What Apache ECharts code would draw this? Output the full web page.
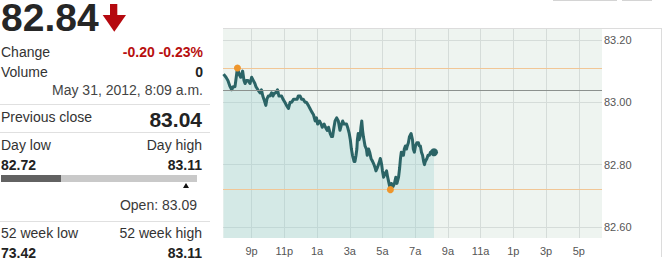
<!DOCTYPE html>
<html>
<head>
<meta charset="utf-8">
<script src="https://cdn.jsdelivr.net/npm/echarts@6/dist/echarts.min.js"></script>
<style>
html,body{margin:0;padding:0;background:#fff;}
body{position:relative;width:668px;height:266px;overflow:hidden;font-family:"Liberation Sans",Arial,sans-serif;}
#chart{position:absolute;left:0;top:0;width:668px;height:266px;}
.t{position:absolute;white-space:nowrap;font-size:14px;line-height:14px;color:#333;}
.b{font-weight:bold;color:#222;}
.red{color:#b80f0f;}
.sep{position:absolute;left:0;width:210px;height:1px;background:#e0e0e0;}
</style>
</head>
<body>
<div id="chart"></div>
<div id="panel"></div>
<script>
// ---- data ----
const times = ["19:17","19:26","19:33","19:41","19:47","19:52","19:59","20:05","20:08","20:14",
"20:20","20:27","20:32","20:36","20:41","20:47","20:54","21:00","21:06","21:12",
"21:16","21:23","21:31","21:36","21:41","21:45","21:52","21:56","22:01","22:07",
"22:13","22:18","22:24","22:29","22:35","22:40","22:50","22:55","23:02","23:08",
"23:15","23:21","23:27","23:34","23:39","23:47","23:51","23:58","00:03","00:09",
"00:16","00:21","00:28","00:34","00:40","00:47","00:53","00:58","01:02","01:09",
"01:15","01:19","01:26","01:31","01:37","01:42","01:48","01:53","01:57","02:02",
"02:06","02:12","02:18","02:24","02:30","02:34","02:39","02:43","02:48","02:52",
"02:58","03:02","03:06","03:10","03:16","03:19","03:23","03:26","03:28","03:31",
"03:34","03:38","03:41","03:44","03:47","03:50","03:56","04:01","04:04","04:09",
"04:13","04:18","04:24","04:29","04:33","04:36","04:41","04:45","04:49","04:52",
"04:57","05:00","05:04","05:09","05:15","05:19","05:24","05:29","05:33","05:39",
"05:44","05:49","05:53","05:59","06:03","06:06","06:09","06:13","06:17","06:20",
"06:24","06:28","06:31","06:35","06:39","06:45","06:50","06:53","06:57","07:01",
"07:06","07:12","07:15","07:19","07:23","07:27","07:31","07:34","07:37","07:43",
"07:47","07:52","07:56","08:01","08:09"];
const prices = [83.09,83.08,83.07,83.05,83.04,83.05,83.05,83.09,83.11,83.09,
83.08,83.10,83.07,83.06,83.07,83.07,83.06,83.08,83.07,83.06,
83.05,83.04,83.03,83.04,83.02,83.01,82.99,83.01,83.02,83.02,
83.03,83.02,83.03,83.03,83.04,83.02,83.02,83.01,83.00,82.99,
82.98,83.00,83.00,83.01,83.01,83.01,83.02,83.02,83.01,83.01,
83.00,83.00,82.99,82.98,82.97,82.96,82.94,82.95,82.93,82.94,
82.93,82.92,82.93,82.92,82.91,82.92,82.90,82.89,82.89,82.92,
82.94,82.95,82.94,82.91,82.93,82.94,82.93,82.93,82.93,82.92,
82.90,82.88,82.85,82.83,82.81,82.81,82.83,82.85,82.88,82.90,
82.88,82.89,82.92,82.94,82.91,82.89,82.86,82.85,82.83,82.85,
82.84,82.82,82.81,82.80,82.79,82.78,82.79,82.80,82.81,82.82,
82.80,82.78,82.76,82.77,82.78,82.76,82.74,82.72,82.74,82.73,
82.74,82.76,82.74,82.76,82.79,82.82,82.84,82.83,82.83,82.85,
82.86,82.85,82.86,82.87,82.89,82.90,82.88,82.85,82.84,82.86,
82.87,82.87,82.86,82.86,82.84,82.83,82.81,82.80,82.81,82.82,
82.83,82.83,82.84,82.84,82.84];
const xTickHours = [21,23,25,27,29,31,33,35,37,39,41];
const xTickLabels = ["9p","11p","1a","3a","5a","7a","9a","11a","1p","3p","5p"];
const yTicks = [82.6,82.8,83.0,83.2];
const lastPrice = 82.84, change = "-0.20", changePct = "-0.23%", volume = "0";
const stamp = "May 31, 2012, 8:09 a.m.";
const prevClose = 83.04, dayLow = 82.72, dayHigh = 83.11, openPrice = 83.09;
const wkLow = 73.42, wkHigh = 83.11;

// ---- left stats panel ----
const panel = document.getElementById('panel');
function txt(s, top, side, pos, cls, extra){
  const d = document.createElement('div');
  d.className = 't ' + (cls||'');
  d.textContent = s;
  d.style.top = top + 'px';
  d.style[side] = pos + 'px';
  if (extra) Object.assign(d.style, extra);
  panel.appendChild(d);
}
txt(lastPrice.toFixed(2), 0, 'left', 1, 'b', {fontSize:'39px', lineHeight:'36px', color:'#262626'});
panel.insertAdjacentHTML('beforeend',
 '<svg style="position:absolute;left:102px;top:4px" width="26" height="29"><rect x="8" y="0" width="7.3" height="13" fill="#b5090f"/><polygon points="0.7,11 24,11 12.3,27.7" fill="#b5090f"/></svg>');
txt('Change', 45, 'left', 1);
txt(change + ' ' + changePct, 45, 'right', 465, 'b red', {color:'#b80f0f'});
txt('Volume', 65, 'left', 1);
txt(volume, 65, 'right', 465, 'b');
txt(stamp, 83, 'right', 465, '', {color:'#444'});
panel.insertAdjacentHTML('beforeend','<div class="sep" style="top:104px"></div>');
txt('Previous close', 110, 'left', 1);
txt(prevClose.toFixed(2), 109.2, 'right', 466, 'b', {fontSize:'21px', lineHeight:'21px'});
panel.insertAdjacentHTML('beforeend','<div class="sep" style="top:132px"></div>');
txt('Day low', 138, 'left', 1);
txt('Day high', 138, 'right', 466);
txt(dayLow.toFixed(2), 158, 'left', 1, 'b');
txt(dayHigh.toFixed(2), 158, 'right', 466, 'b');
const barW = 196;
const fLast = (lastPrice - dayLow) / (dayHigh - dayLow);
const fOpen = (openPrice - dayLow) / (dayHigh - dayLow);
panel.insertAdjacentHTML('beforeend',
 '<div style="position:absolute;left:1px;top:175px;width:'+barW+'px;height:7px;background:#c9c9c9"></div>' +
 '<div style="position:absolute;left:1px;top:175px;width:'+(fLast*barW).toFixed(1)+'px;height:7px;background:#626262"></div>' +
 '<div style="position:absolute;left:'+(1+fOpen*barW-3.5).toFixed(1)+'px;top:183px;width:0;height:0;border-left:3.5px solid transparent;border-right:3.5px solid transparent;border-bottom:5px solid #111"></div>');
txt('Open: ' + openPrice.toFixed(2), 198, 'right', 471, '', {color:'#3a3a3a'});
panel.insertAdjacentHTML('beforeend','<div class="sep" style="top:221px"></div>');
txt('52 week low', 226, 'left', 1);
txt('52 week high', 226, 'right', 466);
txt(wkLow.toFixed(2), 246, 'left', 1, 'b');
txt(wkHigh.toFixed(2), 246, 'right', 466, 'b');
// clipped controls at the very top
panel.insertAdjacentHTML('beforeend',
 '<div style="position:absolute;left:553px;top:-20px;width:62px;height:19px;border:1px solid #d4d4d4"></div>' +
 '<div style="position:absolute;left:622px;top:-20px;width:28px;height:19px;border:1px solid #d4d4d4"></div>');

// ---- chart ----
function toHour(s){
  const p = s.split(':');
  let h = +p[0] + (+p[1]) / 60;
  if (h < 12) h += 24; // after midnight (next day)
  return h;
}
const lineData = times.map((s, i) => [toHour(s), prices[i]]);
const iMax = prices.indexOf(Math.max(...prices));
const iMin = prices.indexOf(Math.min(...prices));

const chart = echarts.init(document.getElementById('chart'), null, {renderer: 'svg'});
chart.setOption({
  animation: false,
  grid: {left: 223, top: 28, width: 379, height: 210, show: true, backgroundColor: '#eef4f0', borderWidth: 0},
  xAxis: {
    type: 'value', min: 19.25, max: 42.42,
    axisLine: {show: false},
    axisTick: {show: false, customValues: xTickHours},
    axisLabel: {
      customValues: xTickHours, color: '#555', fontSize: 11, margin: 7,
      fontFamily: 'Liberation Sans, Arial, sans-serif',
      formatter: v => xTickLabels[xTickHours.indexOf(Math.round(v))] || ''
    },
    splitLine: {show: true, lineStyle: {color: '#d5dcd9', width: 1}}
  },
  yAxis: {
    type: 'value', position: 'right', min: 82.565, max: 83.238, scale: true,
    axisLine: {show: false},
    axisTick: {show: false, customValues: yTicks},
    axisLabel: {
      customValues: yTicks, color: '#555', fontSize: 11, margin: 2,
      fontFamily: 'Liberation Sans, Arial, sans-serif',
      formatter: v => v.toFixed(2), padding: [4, 0, 0, 0]
    },
    splitLine: {show: true, lineStyle: {color: '#d5dcd9', width: 1}}
  },
  graphic: [
    {type: 'line', shape: {x1: 223, y1: 28.5, x2: 662, y2: 28.5}, style: {stroke: '#dcdcdc', lineWidth: 1}, z: 100},
    {type: 'line', shape: {x1: 661.5, y1: 28, x2: 661.5, y2: 257}, style: {stroke: '#dcdcdc', lineWidth: 1}, z: 100}
  ],
  series: [
    {
      type: 'line', data: lineData, showSymbol: false, symbol: 'none',
      lineStyle: {color: '#2b6466', width: 3, join: 'round'},
      areaStyle: {color: '#97cfcf', opacity: 0.3, origin: 'start'},
      markLine: {
        silent: true, symbol: 'none', label: {show: false},
        lineStyle: {type: 'solid', width: 1},
        data: [
          {yAxis: dayHigh, lineStyle: {color: '#f1c696', type: 'solid', width: 1}},
          {yAxis: dayLow, lineStyle: {color: '#f1c696', type: 'solid', width: 1}},
          {yAxis: prevClose, lineStyle: {color: '#8b918e', type: 'solid', width: 1}}
        ]
      },
      z: 3
    },
    {
      type: 'scatter', symbolSize: 7,
      itemStyle: {color: '#ee962c', opacity: 1},
      data: [lineData[iMax], lineData[iMin]], z: 5
    },
    {
      type: 'scatter', symbolSize: 8,
      itemStyle: {color: '#2b6466', opacity: 1},
      data: [lineData[lineData.length - 1]], z: 5
    }
  ]
});
</script>
</body>
</html>
